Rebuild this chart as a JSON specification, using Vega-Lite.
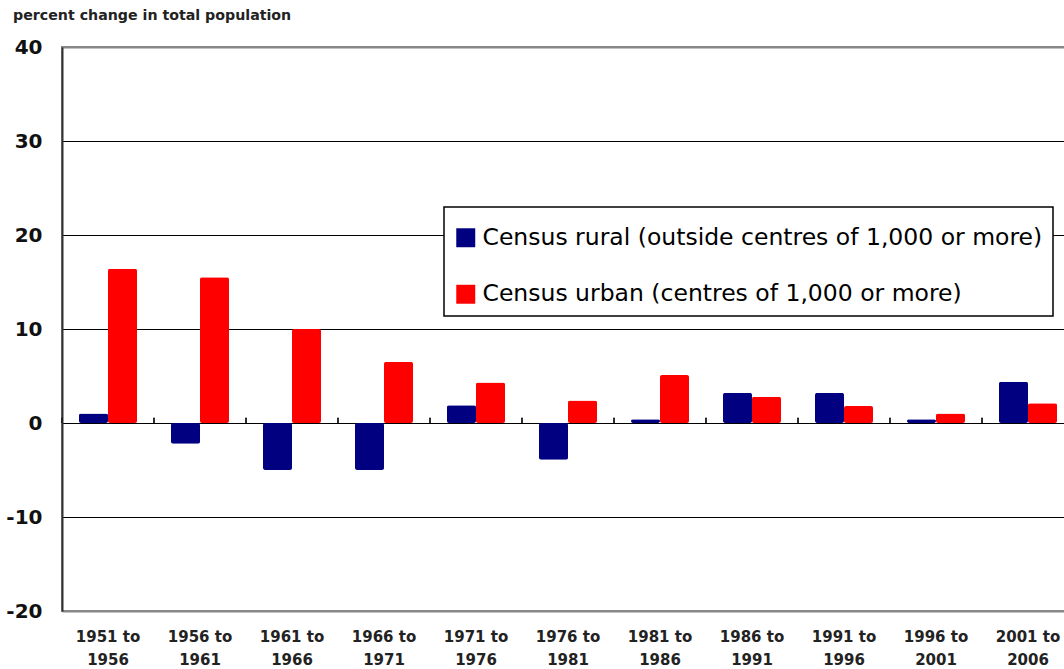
{
  "$schema": "https://vega.github.io/schema/vega-lite/v6.json",
  "autosize": "none",
  "width": 1012,
  "height": 564,
  "padding": {"left": 62, "top": 47, "right": 0, "bottom": 58},
  "background": "white",
  "config": {
    "font": "DejaVu Sans",
    "view": {"stroke": "#888", "strokeWidth": 2}
  },
  "title": {
    "text": "percent change in total population",
    "anchor": "start",
    "frame": "group",
    "dx": -49,
    "offset": 14,
    "font": "DejaVu Sans",
    "fontSize": 14.2,
    "fontWeight": "bold",
    "color": "#222"
  },
  "data": {
    "values": [
      {"period": "1951 to 1956", "series": "Census rural (outside centres of 1,000 or more)", "value": 1.0},
      {"period": "1951 to 1956", "series": "Census urban (centres of 1,000 or more)", "value": 16.4},
      {"period": "1956 to 1961", "series": "Census rural (outside centres of 1,000 or more)", "value": -2.2},
      {"period": "1956 to 1961", "series": "Census urban (centres of 1,000 or more)", "value": 15.5},
      {"period": "1961 to 1966", "series": "Census rural (outside centres of 1,000 or more)", "value": -5.0},
      {"period": "1961 to 1966", "series": "Census urban (centres of 1,000 or more)", "value": 10.0},
      {"period": "1966 to 1971", "series": "Census rural (outside centres of 1,000 or more)", "value": -5.0},
      {"period": "1966 to 1971", "series": "Census urban (centres of 1,000 or more)", "value": 6.5},
      {"period": "1971 to 1976", "series": "Census rural (outside centres of 1,000 or more)", "value": 1.9},
      {"period": "1971 to 1976", "series": "Census urban (centres of 1,000 or more)", "value": 4.3},
      {"period": "1976 to 1981", "series": "Census rural (outside centres of 1,000 or more)", "value": -3.9},
      {"period": "1976 to 1981", "series": "Census urban (centres of 1,000 or more)", "value": 2.4},
      {"period": "1981 to 1986", "series": "Census rural (outside centres of 1,000 or more)", "value": 0.4},
      {"period": "1981 to 1986", "series": "Census urban (centres of 1,000 or more)", "value": 5.1},
      {"period": "1986 to 1991", "series": "Census rural (outside centres of 1,000 or more)", "value": 3.2},
      {"period": "1986 to 1991", "series": "Census urban (centres of 1,000 or more)", "value": 2.8},
      {"period": "1991 to 1996", "series": "Census rural (outside centres of 1,000 or more)", "value": 3.2},
      {"period": "1991 to 1996", "series": "Census urban (centres of 1,000 or more)", "value": 1.8},
      {"period": "1996 to 2001", "series": "Census rural (outside centres of 1,000 or more)", "value": 0.4},
      {"period": "1996 to 2001", "series": "Census urban (centres of 1,000 or more)", "value": 1.0},
      {"period": "2001 to 2006", "series": "Census rural (outside centres of 1,000 or more)", "value": 4.4},
      {"period": "2001 to 2006", "series": "Census urban (centres of 1,000 or more)", "value": 2.1}
    ]
  },
  "encoding": {
    "x": {
      "field": "period",
      "type": "nominal",
      "sort": null,
      "scale": {"paddingInner": 0, "paddingOuter": 0},
      "axis": {
        "title": null,
        "labelAngle": 0,
        "labelExpr": "[substring(datum.label,0,7), substring(datum.label,8)]",
        "labelFont": "DejaVu Sans",
        "labelFontSize": 15,
        "labelFontWeight": "bold",
        "labelColor": "#222",
        "labelPadding": 18,
        "labelLineHeight": 23,
        "ticks": false,
        "domain": false,
        "grid": false
      }
    }
  },
  "layer": [
    {
      "mark": {"type": "bar", "cornerRadius": 2},
      "encoding": {
        "xOffset": {
          "field": "series",
          "type": "nominal",
          "scale": {
            "domain": ["Census rural (outside centres of 1,000 or more)", "Census urban (centres of 1,000 or more)"],
            "paddingInner": 0,
            "paddingOuter": 0.586
          }
        },
        "y": {
          "field": "value",
          "type": "quantitative",
          "scale": {"domain": [-20, 40], "nice": false, "zero": false},
          "axis": {
            "title": null,
            "values": [-20, -10, 0, 10, 20, 30, 40],
            "labelExpr": "datum.value < 0 ? '-' + abs(datum.value) : '' + datum.value",
            "labelFont": "DejaVu Sans",
            "labelFontSize": 20,
            "labelFontWeight": "bold",
            "labelColor": "#111",
            "labelPadding": 20,
            "ticks": false,
            "domainColor": "#333",
            "domainWidth": 2,
            "grid": true,
            "gridColor": {"condition": {"test": "datum.value == 40 || datum.value == -20", "value": "#888"}, "value": "#000"},
            "gridWidth": {"condition": {"test": "datum.value == 40 || datum.value == -20", "value": 2}, "value": 1},
            "gridOpacity": 1
          }
        },
        "color": {
          "field": "series",
          "type": "nominal",
          "scale": {
            "domain": ["Census rural (outside centres of 1,000 or more)", "Census urban (centres of 1,000 or more)"],
            "range": ["#000080", "#ff0000"]
          },
          "legend": {
            "title": " ",
            "titleFontSize": 1,
            "titlePadding": 8,
            "orient": "none",
            "legendX": 382,
            "legendY": 160,
            "symbolType": "square",
            "symbolSize": 360,
            "symbolStrokeWidth": 0,
            "symbolOpacity": 1,
            "labelFont": "DejaVu Sans",
            "labelFontSize": 23.5,
            "labelColor": "#000",
            "labelOffset": 5,
            "labelLimit": 800,
            "rowPadding": 31.5,
            "padding": 10,
            "fillColor": "white",
            "strokeColor": "#000",
            "encode": {"legend": {"update": {"strokeWidth": {"value": 1.5}}}}
          }
        }
      }
    },
    {
      "mark": {"type": "rule", "color": "#222", "strokeWidth": 2},
      "encoding": {
        "y": {"datum": 0, "type": "quantitative"}
      }
    },
    {
      "mark": {"type": "rule", "color": "#222", "strokeWidth": 1.5},
      "encoding": {
        "x": {"field": "period", "type": "nominal", "sort": null, "bandPosition": 0},
        "y": {"datum": 0, "type": "quantitative"},
        "y2": {"datum": 0.55}
      }
    }
  ]
}
